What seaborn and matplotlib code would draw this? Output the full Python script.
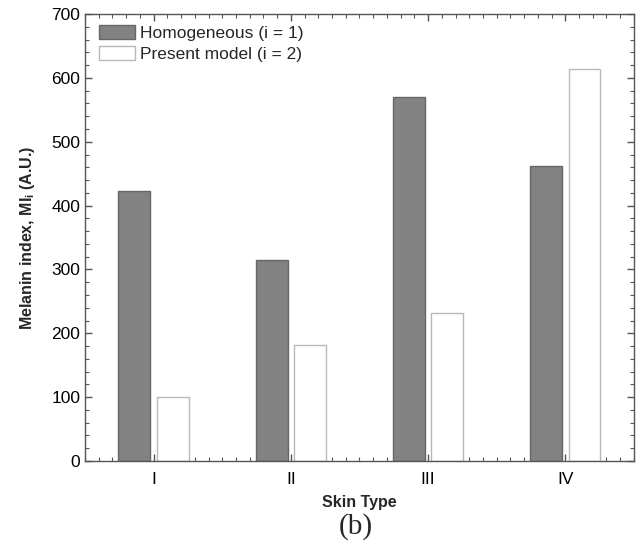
import matplotlib
matplotlib.use("Agg")
import matplotlib.pyplot as plt
from matplotlib.ticker import MultipleLocator
from matplotlib.patches import Patch
import seaborn as sns
import pandas as pd

skin_types = ["I", "II", "III", "IV"]
homogeneous = [423, 315, 570, 462]
present_model = [100, 182, 232, 614]
series_names = ["Homogeneous (i = 1)", "Present model (i = 2)"]

df = pd.DataFrame({
    "Skin Type": skin_types * 2,
    "MI": homogeneous + present_model,
    "Model": [series_names[0]] * 4 + [series_names[1]] * 4,
})

sns.set_style("ticks")
plt.rcParams["font.family"] = ["Liberation Sans", "DejaVu Sans"]
plt.rcParams["mathtext.fontset"] = "custom"
plt.rcParams["mathtext.rm"] = "Liberation Sans"
plt.rcParams["mathtext.bf"] = "Liberation Sans:bold"

fill = {series_names[0]: "#828282", series_names[1]: "#ffffff"}
edges = ["#666666", "#b8b8b8"]

fig = plt.figure(figsize=(6.42, 5.43), dpi=100)
ax = fig.add_axes([0.1324, 0.151, 0.855, 0.823])

sns.barplot(data=df, x="Skin Type", y="MI", hue="Model", order=skin_types,
            hue_order=series_names, palette=fill, width=0.56, gap=0.17,
            saturation=1, linewidth=1.0, ax=ax, legend=False)

for cont, ec in zip(ax.containers, edges):
    for bar in cont:
        bar.set_edgecolor(ec)

ax.set_xlim(-0.5, 3.5)
ax.set_ylim(0, 700)
ax.set_axisbelow(True)
ax.yaxis.set_major_locator(MultipleLocator(100))
ax.yaxis.set_minor_locator(MultipleLocator(20))
ax.xaxis.set_minor_locator(MultipleLocator(0.1))

for s in ax.spines.values():
    s.set_visible(True)
    s.set_color("#555555")
    s.set_linewidth(1.0)

ax.tick_params(which="both", direction="in", top=True, right=True,
               color="#555555", labelsize=12.5, labelcolor="black")
ax.tick_params(which="major", length=5, width=1)
ax.tick_params(which="minor", length=3, width=0.8)
ax.tick_params(axis="x", which="major", pad=8)

ax.set_xlabel("Skin Type", fontsize=11.5, fontweight="bold", labelpad=6)
ax.set_ylabel(r"Melanin index, MI$_\mathbf{i}$ (A.U.)", fontsize=11.5,
              fontweight="bold", labelpad=10)

handles = [Patch(facecolor=fill[series_names[0]], edgecolor=edges[0], linewidth=1.0),
           Patch(facecolor=fill[series_names[1]], edgecolor=edges[1], linewidth=1.0)]
ax.legend(handles, series_names, loc="upper left", frameon=False, fontsize=12.5,
          handlelength=2.1, handleheight=0.9, handletextpad=0.3,
          labelspacing=0.3, borderaxespad=0.2, bbox_to_anchor=(0.006, 1.0))

fig.text(356 / 642, 1 - 527 / 543, "(b)", ha="center", va="center",
         fontsize=21, family=["Liberation Serif", "DejaVu Serif"])

fig.savefig("out.png", dpi=100)
